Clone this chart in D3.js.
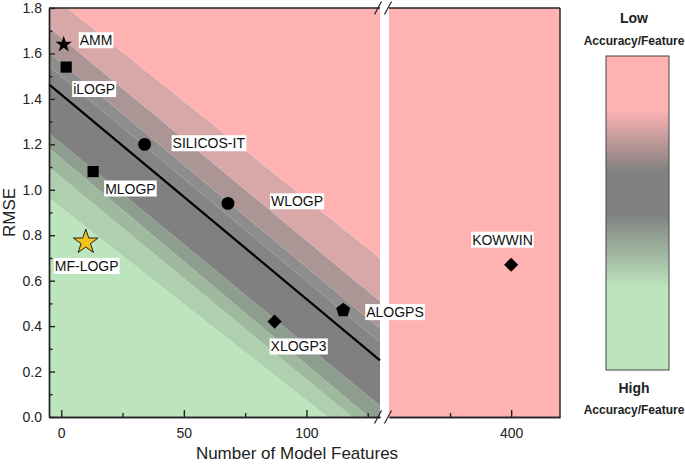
<!DOCTYPE html>
<html>
<head>
<meta charset="utf-8">
<script src="https://cdn.jsdelivr.net/npm/d3@7"></script>
<style>
  body { margin: 0; background: #fff; }
  svg { font-family: "Liberation Sans", Arial, sans-serif; display: block; }
</style>
</head>
<body>
<div id="chart"></div>
<script>
// ---- data ----
const methods = ["AMM", "iLOGP", "SILICOS-IT", "MLOGP", "WLOGP", "MF-LOGP", "XLOGP3", "ALOGPS", "KOWWIN"];
const features = [1, 2, 34, 13, 68, 10, 87, 115, 400];
const rmse = [1.64, 1.54, 1.20, 1.08, 0.94, 0.77, 0.42, 0.47, 0.67];
const shapes = ["star", "square", "circle", "square", "circle", "bigstar", "diamond", "pentagon", "diamond"];

// linear fit of RMSE vs features, drawn over the left segment
const fitIntercept = 1.419;
const fitSlope = -0.009;
const fitRange = [-5, 130];

// band edges as RMSE offsets from the fit line, at the left and right end of the segment
const bandEdgesLeft = [-3, -0.5, -0.365, -0.28, -0.215, 0, 0.08, 0.14, 0.25, 0.40, 3];
const bandEdgesRight = [-3, -0.43, -0.35, -0.29, -0.2, 0, 0.08, 0.14, 0.26, 0.45, 3];
const bandColors = ["#bde5bd", "#aed0ae", "#9fb99f", "#8e9e8e", "#808080", "#858585", "#8d8d8d", "#ab9595", "#d8a7a7", "#ffb2b2"];

const yTicks = [0, 0.2, 0.4, 0.6, 0.8, 1.0, 1.2, 1.4, 1.6, 1.8];
const yMinor = [0.1, 0.3, 0.5, 0.7, 0.9, 1.1, 1.3, 1.5, 1.7];
const xTicksLeft = [0, 50, 100];
const xMinorLeft = [25, 75, 125];
const xTicksRight = [400];
const xMinorRight = [350];

// ---- layout ----
const width = 685, height = 466;
const pink = "#ffb2b2", gray = "#808080", green = "#bde5bd";
const labelOffset = {
    "AMM": [16, -4], "iLOGP": [7, 22], "SILICOS-IT": [28, -1], "MLOGP": [12, 17],
    "WLOGP": [43, -2], "MF-LOGP": [-31, 24], "XLOGP3": [-4, 25], "ALOGPS": [23, 2], "KOWWIN": [-39, -25]
};

const svg = d3.select("#chart").append("svg")
    .attr("width", width).attr("height", height);

const y = d3.scaleLinear().domain([0, 1.8]).range([417, 8]);
const xL = d3.scaleLinear().domain([-5, 130]).range([49, 380]);
const xR = d3.scaleLinear().domain([300, 440]).range([389, 560]);
const xOf = v => v > 200 ? xR(v) : xL(v);

// clip for left segment
svg.append("clipPath").attr("id", "clipL")
    .append("rect").attr("x", xL.range()[0]).attr("y", y(1.8))
    .attr("width", xL.range()[1] - xL.range()[0]).attr("height", y(0) - y(1.8));

// right segment background
svg.append("rect")
    .attr("x", xR.range()[0]).attr("y", y(1.8))
    .attr("width", xR.range()[1] - xR.range()[0]).attr("height", y(0) - y(1.8))
    .attr("fill", pink);

// left segment bands
const fit = f => fitIntercept + fitSlope * f;
const bandG = svg.append("g").attr("clip-path", "url(#clipL)");
for (let i = 0; i < bandColors.length; i++) {
    const x0 = fitRange[0], x1 = fitRange[1];
    const pts = [
        [x0, fit(x0) + bandEdgesLeft[i]], [x1, fit(x1) + bandEdgesRight[i]],
        [x1, fit(x1) + bandEdgesRight[i + 1]], [x0, fit(x0) + bandEdgesLeft[i + 1]]
    ].map(p => [xL(p[0]), y(p[1])].join(","));
    bandG.append("polygon").attr("points", pts.join(" ")).attr("fill", bandColors[i]);
}

// fit line
svg.append("line")
    .attr("x1", xL(fitRange[0])).attr("y1", y(fit(fitRange[0])))
    .attr("x2", xL(fitRange[1])).attr("y2", y(fit(fitRange[1])))
    .attr("stroke", "#000").attr("stroke-width", 2.2);

// ---- axes ----
const axisColor = "#222";
function styleAxis(g) {
    g.selectAll("path, line").attr("stroke", axisColor).attr("stroke-width", 1.4);
    g.selectAll("text").attr("fill", "#222").attr("font-size", 14)
        .attr("font-family", "Liberation Sans, Arial, sans-serif");
}

svg.append("g").attr("transform", `translate(${xL.range()[0]},0)`)
    .call(d3.axisLeft(y).tickValues(yTicks).tickSizeInner(-6).tickSizeOuter(0).tickPadding(7).tickFormat(d3.format(".1f")))
    .call(styleAxis);
svg.append("g").attr("transform", `translate(${xL.range()[0]},0)`)
    .call(d3.axisLeft(y).tickValues(yMinor).tickSizeInner(-3.5).tickSizeOuter(0).tickFormat(""))
    .call(styleAxis);

const bottomY = y(0);
svg.append("g").attr("transform", `translate(0,${bottomY})`)
    .call(d3.axisBottom(xL).tickValues(xTicksLeft).tickSizeInner(-7).tickSizeOuter(0).tickPadding(11))
    .call(styleAxis);
svg.append("g").attr("transform", `translate(0,${bottomY})`)
    .call(d3.axisBottom(xL).tickValues(xMinorLeft).tickSizeInner(-4).tickSizeOuter(0).tickFormat(""))
    .call(styleAxis);
svg.append("g").attr("transform", `translate(0,${bottomY})`)
    .call(d3.axisBottom(xR).tickValues(xTicksRight).tickSizeInner(-7).tickSizeOuter(0).tickPadding(11))
    .call(styleAxis);
svg.append("g").attr("transform", `translate(0,${bottomY})`)
    .call(d3.axisBottom(xR).tickValues(xMinorRight).tickSizeInner(-4).tickSizeOuter(0).tickFormat(""))
    .call(styleAxis);

// top and right frame
const frame = svg.append("g").attr("stroke", axisColor).attr("stroke-width", 1.4);
frame.append("line").attr("x1", xL.range()[0]).attr("x2", xL.range()[1]).attr("y1", y(1.8)).attr("y2", y(1.8));
frame.append("line").attr("x1", xR.range()[0]).attr("x2", xR.range()[1]).attr("y1", y(1.8)).attr("y2", y(1.8));
frame.append("line").attr("x1", xR.range()[1]).attr("x2", xR.range()[1]).attr("y1", y(1.8)).attr("y2", y(0));

// break marks
[y(1.8), y(0)].forEach(yy => {
    [xL.range()[1] - 2, xR.range()[0] - 1].forEach(xx => {
        frame.append("line")
            .attr("x1", xx - 3.5).attr("y1", yy + 6.5)
            .attr("x2", xx + 3.5).attr("y2", yy - 6.5)
            .attr("stroke-width", 1.2);
    });
});

// axis titles
svg.append("text")
    .attr("x", 297).attr("y", 459)
    .attr("text-anchor", "middle").attr("font-size", 17).attr("fill", "#222")
    .text("Number of Model Features");
svg.append("text")
    .attr("transform", `translate(15,${(y(0) + y(1.8)) / 2}) rotate(-90)`)
    .attr("text-anchor", "middle").attr("font-size", 17).attr("fill", "#222")
    .text("RMSE");

// ---- markers ----
const pentagon = {
    draw(ctx, size) {
        const r = Math.sqrt(size / 2.378);
        for (let k = 0; k < 5; k++) {
            const a = -Math.PI / 2 + k * 2 * Math.PI / 5;
            const px = r * Math.cos(a), py = r * Math.sin(a);
            if (k === 0) ctx.moveTo(px, py); else ctx.lineTo(px, py);
        }
        ctx.closePath();
    }
};
const symbolFor = {
    star: d3.symbol(d3.symbolStar, 85),
    bigstar: d3.symbol(d3.symbolStar, 190),
    square: d3.symbol(d3.symbolSquare, 125),
    circle: d3.symbol(d3.symbolCircle, 130),
    diamond: d3.symbol(d3.symbolSquare, 100),
    pentagon: d3.symbol(pentagon, 130)
};

const points = methods.map((m, i) => ({ name: m, f: features[i], r: rmse[i], shape: shapes[i] }));

const markG = svg.append("g");
markG.selectAll("path").data(points).enter().append("path")
    .attr("d", d => symbolFor[d.shape]())
    .attr("transform", d => `translate(${xOf(d.f)},${y(d.r)})` + (d.shape === "diamond" ? " rotate(45)" : ""))
    .attr("fill", d => d.shape === "bigstar" ? "#f3c21a" : "#000")
    .attr("stroke", d => d.shape === "bigstar" ? "#222" : "none")
    .attr("stroke-width", 1);

// labels with white boxes
const labelG = svg.append("g");
points.forEach(d => {
    const [dx, dy] = labelOffset[d.name];
    const g = labelG.append("g");
    const t = g.append("text")
        .attr("x", xOf(d.f) + dx).attr("y", y(d.r) + dy)
        .attr("dy", "0.35em").attr("font-size", 14).attr("fill", "#111")
        .text(d.name);
    const bb = t.node().getBBox();
    g.insert("rect", "text")
        .attr("x", bb.x - 1).attr("y", bb.y).attr("width", bb.width + 2).attr("height", bb.height)
        .attr("fill", "#fff");
});

// ---- colour legend ----
const legX = 606, legY = 56, legW = 63, legH = 314;
const grad = svg.append("defs").append("linearGradient")
    .attr("id", "legGrad").attr("x1", 0).attr("x2", 0).attr("y1", 0).attr("y2", 1);
[[0, pink], [0.17, pink], [0.37, gray], [0.5, gray], [0.74, green], [1, green]].forEach(s => {
    grad.append("stop").attr("offset", s[0]).attr("stop-color", s[1]);
});
svg.append("rect")
    .attr("x", legX).attr("y", legY).attr("width", legW).attr("height", legH)
    .attr("fill", "url(#legGrad)").attr("stroke", "#444").attr("stroke-width", 1);

const legText = [["Low", 23, 14], ["Accuracy/Feature", 45, 12], ["High", 393, 14], ["Accuracy/Feature", 414, 12]];
legText.forEach(l => {
    svg.append("text")
        .attr("x", 634).attr("y", l[1])
        .attr("text-anchor", "middle").attr("font-size", l[2]).attr("font-weight", "bold")
        .attr("fill", "#222").text(l[0]);
});
</script>
</body>
</html>
